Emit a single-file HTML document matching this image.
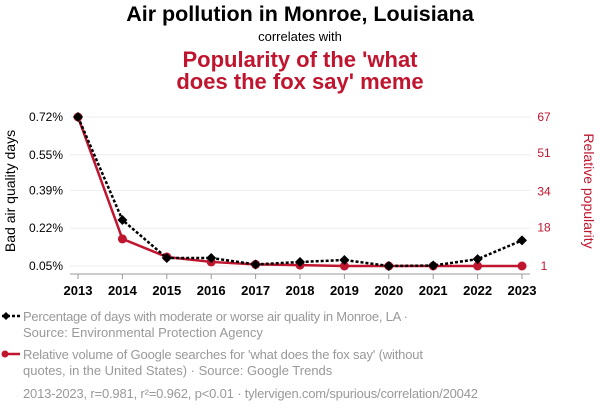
<!DOCTYPE html>
<html><head><meta charset="utf-8"><style>
body{margin:0;width:600px;height:414px;background:#fff;font-family:"Liberation Sans",sans-serif;overflow:hidden}
svg{display:block}
</style></head><body>
<svg id="c" width="600" height="414">
<text x="300" y="21" text-anchor="middle" font-size="21.5" font-weight="bold" fill="#000">Air pollution in Monroe, Louisiana</text>
<text x="300" y="41" text-anchor="middle" font-size="13" fill="#000">correlates with</text>
<text x="300" y="67" text-anchor="middle" font-size="22" font-weight="bold" fill="#c0152f">Popularity of the 'what</text>
<text x="300" y="89" text-anchor="middle" font-size="22" font-weight="bold" fill="#c0152f">does the fox say' meme</text>
<text transform="translate(15,191) rotate(-90)" text-anchor="middle" font-size="14" fill="#000">Bad air quality days</text>
<text transform="translate(584,191) rotate(90)" text-anchor="middle" font-size="14" fill="#c0152f">Relative popularity</text>
<g id="grid"></g><g id="axes"></g><g id="series"></g>
<g font-size="13" fill="#999">
<line x1="2" y1="316" x2="20" y2="316" stroke="#000" stroke-width="2.5" stroke-dasharray="3,2"/>
<path d="M2 316 L6 312 L10 316 L6 320Z" fill="#000"/>
<text x="23" y="321" textLength="385">Percentage of days with moderate or worse air quality in Monroe, LA ·</text>
<text x="23" y="337">Source: Environmental Protection Agency</text>
<line x1="4" y1="354" x2="20" y2="354" stroke="#c0152f" stroke-width="2.5"/>
<circle cx="5" cy="354" r="3.5" fill="#c0152f"/>
<text x="23" y="359" textLength="400">Relative volume of Google searches for 'what does the fox say' (without</text>
<text x="23" y="375">quotes, in the United States) · Source: Google Trends</text>
<text x="23" y="398" textLength="455">2013-2023, r=0.981, r²=0.962, p&lt;0.01 · tylervigen.com/spurious/correlation/20042</text>
</g>
</svg>
<script>
const years=[2013,2014,2015,2016,2017,2018,2019,2020,2021,2022,2023];
const airValues=[0.72,0.257,0.086,0.086,0.057,0.068,0.077,0.05,0.052,0.081,0.165];
const foxValues=[67,13,5,2.8,1.7,1.4,1,1,1,1,1];
const leftTicks=[0.72,0.55,0.39,0.22,0.05];
const rightTicks=[67,51,34,18,1];
const NS="http://www.w3.org/2000/svg";
const x=i=>78+(years[i]-2013)*(522-78)/10;
const yL=v=>266-(v-0.05)/(0.72-0.05)*149;
const yR=v=>266-(v-1)/(67-1)*149;
function mk(t,a,p){const e=document.createElementNS(NS,t);for(const k in a)e.setAttribute(k,a[k]);p.appendChild(e);return e;}
const grid=document.getElementById('grid'),axes=document.getElementById('axes'),ser=document.getElementById('series');
leftTicks.forEach((v,i)=>{
 const g=mk('line',{x1:70,x2:530,y1:yL(v),y2:yL(v),stroke:'#eee','stroke-width':1},grid);
 
 
 const t=mk('text',{x:63,y:yL(v)+4,'text-anchor':'end','font-size':12,fill:'#000'},axes);t.textContent=v.toFixed(2)+'%';
 
 
});
rightTicks.forEach(v=>{
 const t=mk('text',{x:544,y:yR(v)+4,'text-anchor':'middle','font-size':12,fill:'#c0152f'},axes);t.textContent=v;
 
 
});
const ax=mk('line',{x1:70,x2:530,y1:274,y2:274,stroke:'#999','stroke-width':1},axes);


years.forEach((yr,i)=>{
 mk('line',{x1:x(i),x2:x(i),y1:274,y2:279,stroke:'#999'},axes);
 const t=mk('text',{x:x(i),y:295,'text-anchor':'middle','font-size':13,'font-weight':'bold',fill:'#000'},axes);t.textContent=yr;
 
 
});
const fp=mk('polyline',{points:foxValues.map((v,i)=>x(i)+','+yR(v)).join(' '),fill:'none',stroke:'#c0152f','stroke-width':2.5},ser);


foxValues.forEach((v,i)=>{const c=mk('circle',{cx:x(i),cy:yR(v),r:4.5,fill:'#c0152f'},ser);
 
 });
const ap=mk('polyline',{points:airValues.map((v,i)=>x(i)+','+yL(v)).join(' '),fill:'none',stroke:'#000','stroke-width':2.5,'stroke-dasharray':'3,2'},ser);


airValues.forEach((v,i)=>{const X=x(i),Y=yL(v);const d=mk('path',{d:`M${X-5} ${Y}L${X} ${Y-5}L${X+5} ${Y}L${X} ${Y+5}Z`,fill:'#000'},ser);
 
 });
</script>
</body></html>
